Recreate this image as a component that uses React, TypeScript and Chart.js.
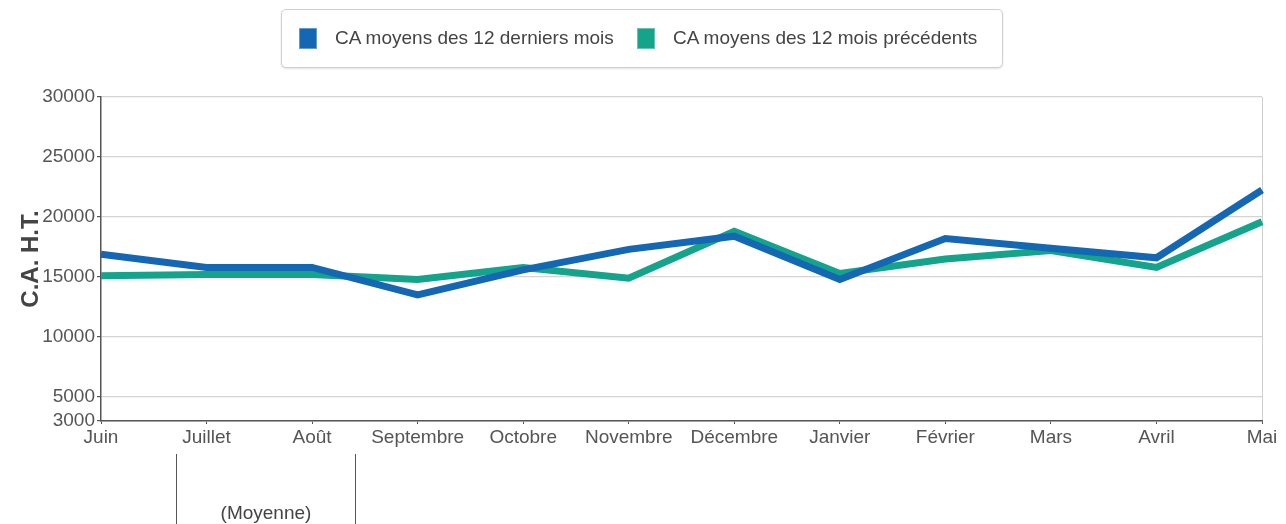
import React, { useEffect, useRef } from "react";
import { Chart, registerables } from "chart.js";

Chart.register(...registerables);

const months = ["Juin", "Juillet", "Août", "Septembre", "Octobre", "Novembre", "Décembre", "Janvier", "Février", "Mars", "Avril", "Mai"];
const last12 = [16900, 15800, 15800, 13500, 15600, 17300, 18400, 14800, 18200, 17400, 16600, 22250];
const prev12 = [15100, 15200, 15200, 14800, 15800, 14900, 18800, 15300, 16500, 17200, 15800, 19600];
const seriesLabels = ["CA moyens des 12 derniers mois", "CA moyens des 12 mois précédents"];
const seriesColors = ["#1467b3", "#14a38b"];
const yTicks = [3000, 5000, 10000, 15000, 20000, 25000, 30000];
const yTitle = "C.A. H.T.";
const noteText = "(Moyenne)";

const FONT = "'Liberation Sans', Arial, sans-serif";

export default function App() {
  const ref = useRef<HTMLCanvasElement | null>(null);

  useEffect(() => {
    if (!ref.current) return;
    const chart = new Chart(ref.current, {
      type: "line",
      data: {
        labels: months,
        datasets: [
          {
            label: seriesLabels[0],
            data: last12,
            borderColor: seriesColors[0],
            backgroundColor: seriesColors[0],
            borderWidth: 7,
            pointRadius: 0,
            tension: 0,
          },
          {
            label: seriesLabels[1],
            data: prev12,
            borderColor: seriesColors[1],
            backgroundColor: seriesColors[1],
            borderWidth: 7,
            pointRadius: 0,
            tension: 0,
          },
        ],
      },
      options: {
        animation: false,
        responsive: false,
        maintainAspectRatio: false,
        layout: { padding: { top: 97, right: 24, bottom: 0, left: 0 } },
        plugins: {
          legend: { display: false },
          tooltip: { enabled: false },
        },
        scales: {
          x: {
            offset: false,
            grid: {
              display: true,
              drawOnChartArea: true,
              color: (ctx: any) => (ctx.index === months.length - 1 ? "#d0d0d0" : "rgba(0,0,0,0)"),
              tickColor: "#555",
              tickLength: 3,
              lineWidth: 1,
            },
            border: { color: "#555", width: 1.5 },
            ticks: {
              color: "#555",
              font: { family: FONT, size: 19 },
              padding: 2,
              maxRotation: 0,
              autoSkip: false,
            },
            afterFit: (scale: any) => {
              scale.height = 103;
            },
          },
          y: {
            min: 3000,
            max: 30000,
            afterBuildTicks: (scale: any) => {
              scale.ticks = yTicks.map((v) => ({ value: v }));
            },
            grid: {
              color: "#d4d4d4",
              tickColor: "#555",
              tickLength: 4,
              lineWidth: 1.2,
            },
            border: { color: "#555", width: 1.5 },
            ticks: {
              color: "#555",
              font: { family: FONT, size: 19 },
              padding: 2,
              callback: (v: any) => String(v),
            },
            title: {
              display: true,
              text: yTitle,
              color: "#444",
              font: { family: FONT, size: 24, weight: "bold" },
              padding: { top: 17, bottom: 0 },
            },
            afterFit: (scale: any) => {
              scale.width = 101;
            },
          },
        },
      },
    });
    return () => chart.destroy();
  }, []);

  const legendItemPos = [
    { sq: 299, tx: 335 },
    { sq: 637, tx: 673 },
  ];

  return (
    <div style={{ position: "fixed", left: 0, top: 0, width: 1286, height: 524, background: "#fff", overflow: "hidden" }}>
      <canvas ref={ref} width={1286} height={524} style={{ position: "absolute", left: 0, top: 0, width: 1286, height: 524 }} />
      <div
        style={{
          position: "absolute",
          left: 281,
          top: 9,
          width: 720,
          height: 57,
          border: "1px solid #cfcfcf",
          borderRadius: 5,
          boxShadow: "0 1px 2px rgba(0,0,0,0.12)",
          background: "#fff",
        }}
      />
      {seriesLabels.map((lbl, i) => (
        <React.Fragment key={lbl}>
          <div
            style={{
              position: "absolute",
              left: legendItemPos[i].sq,
              top: 28,
              width: 18,
              height: 21,
              background: seriesColors[i],
              boxShadow: "inset 0 0 0 1px rgba(255,255,255,0.35)",
            }}
          />
          <div
            style={{
              position: "absolute",
              left: legendItemPos[i].tx,
              top: 27,
              fontFamily: FONT,
              fontSize: 19,
              lineHeight: "22px",
              color: "#444",
              whiteSpace: "nowrap",
            }}
          >
            {lbl}
          </div>
        </React.Fragment>
      ))}
      <div style={{ position: "absolute", left: 176, top: 454, width: 1, height: 70, background: "#555" }} />
      <div style={{ position: "absolute", left: 355, top: 454, width: 1, height: 70, background: "#555" }} />
      <div
        style={{
          position: "absolute",
          left: 176,
          width: 180,
          top: 502,
          textAlign: "center",
          fontFamily: FONT,
          fontSize: 19,
          lineHeight: "22px",
          color: "#444",
        }}
      >
        {noteText}
      </div>
    </div>
  );
}
